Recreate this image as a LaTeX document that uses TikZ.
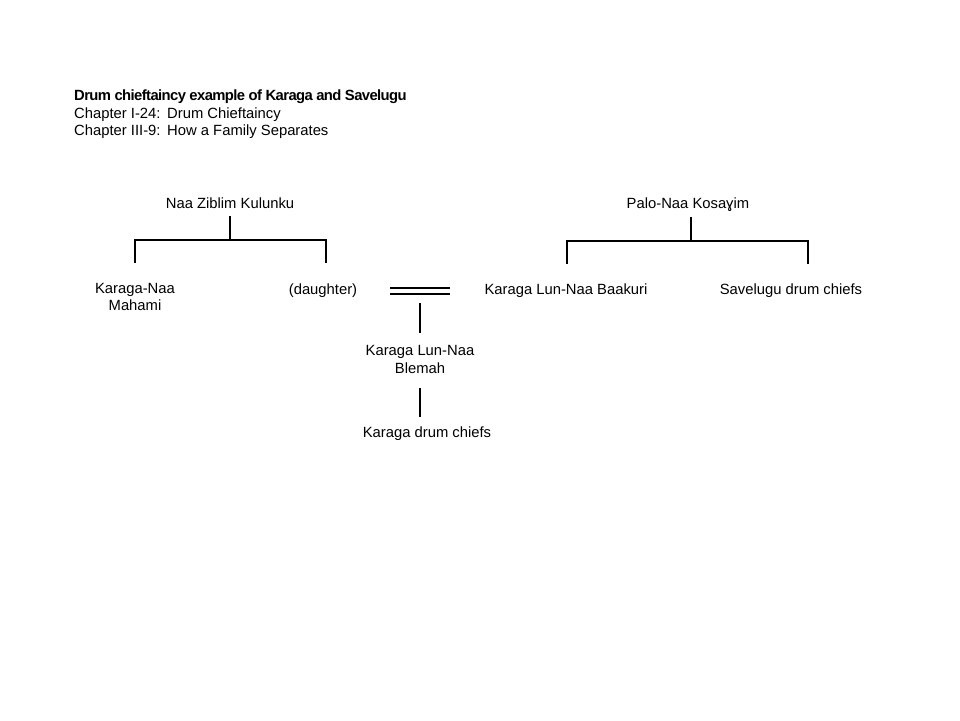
\documentclass[tikz,border=0pt]{standalone}
\usepackage{fontspec}
\setmainfont{Liberation Sans}
\begin{document}
\begin{tikzpicture}[x=1pt,y=-1pt,
  lbl/.style={inner sep=0pt,font=\fontsize{14.8}{17.5}\selectfont,align=center},
  hdr/.style={inner sep=0pt,anchor=west,font=\fontsize{14.8}{17.5}\selectfont},
  ln/.style={line width=1.9pt}]
\useasboundingbox (0,0) rectangle (960,720);
% header
\node[hdr,font=\fontsize{14.8}{17.5}\selectfont\bfseries] (t1) at (74,97) {\addfontfeatures{LetterSpace=-4}Drum chieftaincy example of Karaga and Savelugu};
\node[hdr] (t2a) at (74,115) {Chapter I-24:};
\node[hdr] (t2b) at (167,115) {Drum Chieftaincy};
\node[hdr] (t3a) at (74,132) {Chapter III-9:};
\node[hdr] (t3b) at (167,132) {How a Family Separates};
% left family
\node[lbl] (nzk) at (230,203.5) {Naa Ziblim Kulunku};
\node[lbl] (knm) at (135,297) {Karaga-Naa\\Mahami};
\node[lbl] (dau) at (323,291) {(daughter)};
\coordinate (nzkb) at (230,216);
\coordinate (lbar) at (230,240);
\coordinate (lL) at (135,263);
\coordinate (lR) at (326,263);
\draw[ln] (nzkb) -- (lbar);
\draw[ln] (lL) |- (lbar) -| (lR);
% marriage
\coordinate (m1) at (390,288);
\coordinate (m2) at (450,288);
\coordinate (m3) at (390,294);
\coordinate (m4) at (450,294);
\draw[line width=1.6pt] (m1) -- (m2);
\draw[line width=1.6pt] (m3) -- (m4);
\coordinate (mc) at (420,303);
\node[lbl] (klb) at (420,359.5) {Karaga Lun-Naa\\Blemah};
\node[lbl] (kdc) at (427,434) {Karaga drum chiefs};
\coordinate (c1) at (420,333);
\draw[ln] (mc) -- (c1);
\coordinate (c2) at (420,388);
\coordinate (c3) at (420,417);
\draw[ln] (c2) -- (c3);
% right family
\node[lbl] (pnk) at (688,205) {Palo-Naa Kosaɣim};
\node[lbl] (klnb) at (566,291) {Karaga Lun-Naa Baakuri};
\node[lbl] (sdc) at (791,291) {Savelugu drum chiefs};
\coordinate (pnkb) at (691,217);
\coordinate (rbar) at (691,241);
\coordinate (rL) at (567,264);
\coordinate (rR) at (808,264);
\draw[ln] (pnkb) -- (rbar);
\draw[ln] (rL) |- (rbar) -| (rR);
\end{tikzpicture}
\end{document}
